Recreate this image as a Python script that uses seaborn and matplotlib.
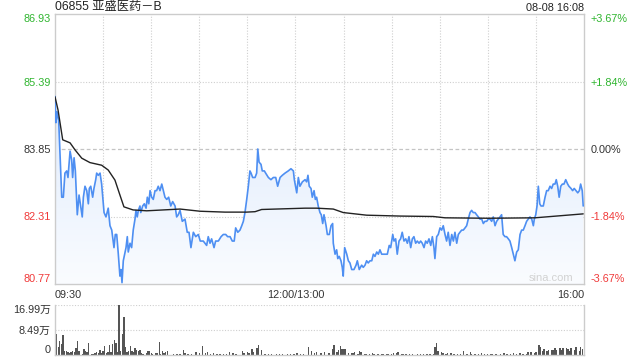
import numpy as np
import pandas as pd
import matplotlib
matplotlib.use("Agg")
import matplotlib.pyplot as plt
import seaborn as sns
from matplotlib.colors import LinearSegmentedColormap

# ---------------- data ----------------
title_text = "06855 亚盛医药－B"
stamp_text = "08-08 16:08"

price_minutes = [
    0.0, 0.6, 1.2, 2.3, 4.2, 5.2, 6.2, 7.3, 8.1, 9.4, 10.4, 11.0, 11.9, 12.7, 13.9, 15.0, 16.0, 17.0, 17.7, 18.7,
    19.8, 20.8, 21.4, 22.3, 23.5, 24.3, 25.4, 26.0, 27.0, 28.1, 29.1, 30.6, 31.8, 33.2, 34.3, 35.4, 36.8, 37.6, 38.5, 39.5,
    40.5, 41.2, 41.8, 42.6, 43.7, 44.3, 45.1, 45.7, 46.8, 47.8, 48.8, 49.9, 50.5, 51.3, 52.0, 53.0, 53.5, 54.7, 55.7, 56.8,
    57.6, 58.5, 59.3, 60.3, 61.3, 62.4, 63.4, 64.4, 65.5, 66.6, 67.6, 68.6, 69.7, 70.9, 72.2, 73.4, 74.9, 75.9, 76.9, 78.0,
    79.4, 81.1, 82.5, 83.6, 84.8, 86.3, 87.8, 89.4, 90.6, 92.5, 94.6, 95.6, 96.7, 97.7, 99.2, 100.2, 101.9, 103.6, 105.0, 106.5,
    107.7, 109.2, 110.6, 111.8, 112.7, 114.0, 115.4, 116.5, 117.5, 118.5, 119.6, 120.6, 121.6, 122.3, 123.3, 124.8, 125.8, 126.5, 127.3, 128.5,
    129.3, 130.6, 131.4, 133.1, 134.7, 136.2, 137.7, 138.9, 140.4, 141.8, 143.5, 145.5, 147.2, 148.7, 149.3, 150.8, 151.8, 152.8, 154.3, 156.0,
    157.0, 157.8, 158.6, 159.7, 160.5, 161.6, 162.4, 163.2, 164.2, 165.3, 166.1, 167.0, 167.8, 169.1, 169.9, 171.1, 172.2, 173.2, 173.6, 174.7,
    175.7, 176.4, 177.3, 178.4, 179.2, 179.8, 180.7, 182.0, 183.0, 184.0, 185.1, 186.5, 187.8, 188.6, 189.8, 191.3, 192.3, 193.4, 194.4, 195.4,
    196.5, 197.6, 198.6, 199.6, 200.7, 201.7, 202.7, 203.8, 204.8, 205.9, 207.3, 208.5, 209.4, 210.7, 211.5, 212.5, 213.5, 214.6, 215.6, 216.6,
    217.7, 218.8, 219.8, 220.8, 221.9, 222.9, 223.9, 225.0, 226.0, 227.1, 228.1, 229.1, 230.2, 231.2, 232.2, 233.3, 234.4, 235.4, 236.4, 237.0,
    238.1, 239.1, 240.2, 241.2, 242.2, 243.3, 244.3, 245.3, 246.4, 247.5, 248.5, 249.5, 250.6, 251.6, 252.6, 253.7, 254.7, 255.8, 256.8, 257.8,
    258.9, 259.9, 260.9, 262.0, 263.0, 264.1, 265.1, 266.2, 267.2, 268.2, 269.3, 270.3, 271.4, 272.4, 273.4, 274.5, 275.5, 276.5, 277.6, 278.6,
    279.6, 280.7, 281.7, 282.8, 283.8, 284.9, 285.9, 286.9, 288.0, 289.0, 290.1, 291.1, 292.1, 293.2, 294.2, 295.2, 296.3, 297.4, 298.4, 299.0,
    299.9, 300.7, 301.5, 302.4, 303.2, 304.6, 305.7, 306.7, 307.7, 308.8, 309.8, 310.8, 311.9, 312.7, 313.6, 314.5, 315.5, 316.5, 317.5, 318.6,
    319.8, 320.6, 321.9, 322.9, 323.9, 325.0, 326.1, 327.1, 327.9, 328.9, 329.5,
]
price_values = [
    85.05, 84.45, 84.70, 84.50, 82.75, 82.75, 83.30, 83.35, 83.20, 83.80, 83.60, 83.20, 83.65, 83.35, 82.35, 82.80, 82.55, 82.30, 82.75, 83.00,
    82.90, 82.60, 82.95, 83.00, 82.75, 82.95, 83.15, 83.30, 83.25, 83.30, 83.05, 82.40, 82.30, 82.50, 82.10, 82.00, 81.60, 81.90, 81.90, 81.45,
    80.95, 81.10, 80.80, 81.30, 81.50, 81.60, 81.85, 81.50, 81.70, 81.60, 82.00, 82.25, 82.45, 82.30, 82.45, 82.55, 82.40, 82.55, 82.60, 82.50,
    82.75, 82.60, 82.90, 82.75, 82.70, 82.90, 82.90, 83.00, 82.90, 83.05, 82.90, 82.75, 82.70, 82.75, 82.55, 82.65, 82.55, 82.30, 82.35, 82.45,
    82.20, 82.25, 81.95, 81.95, 81.60, 81.95, 81.85, 81.90, 81.75, 81.75, 81.65, 81.85, 81.70, 81.80, 81.60, 81.75, 81.75, 81.85, 81.90, 81.90,
    81.85, 81.85, 81.75, 81.75, 82.05, 81.95, 82.00, 82.10, 82.20, 82.40, 82.70, 83.00, 83.35, 83.30, 83.20, 83.20, 83.30, 83.85, 83.55, 83.50,
    83.35, 83.35, 83.30, 83.20, 83.15, 83.20, 83.20, 83.00, 83.20, 83.25, 83.30, 83.35, 83.40, 83.35, 83.15, 82.85, 83.20, 83.00, 83.10, 83.15,
    83.10, 83.25, 83.00, 82.95, 82.75, 82.90, 82.70, 82.75, 82.55, 82.40, 82.35, 82.15, 82.35, 82.10, 81.90, 81.90, 82.10, 82.15, 81.70, 81.45,
    81.55, 81.35, 81.40, 81.30, 81.15, 80.95, 81.60, 81.45, 81.30, 81.25, 81.10, 81.10, 81.20, 81.30, 81.10, 81.20, 81.15, 81.20, 81.30, 81.25,
    81.30, 81.30, 81.45, 81.40, 81.50, 81.45, 81.55, 81.45, 81.45, 81.45, 81.45, 81.65, 81.60, 81.90, 81.75, 81.80, 81.45, 81.75, 81.80, 81.95,
    81.75, 81.80, 81.70, 81.85, 81.60, 81.80, 81.85, 81.70, 81.75, 81.70, 81.75, 81.70, 81.60, 81.75, 81.70, 81.80, 81.65, 81.85, 81.60, 81.35,
    81.85, 81.90, 82.05, 82.00, 82.10, 81.90, 81.75, 81.95, 81.65, 81.90, 81.75, 81.95, 81.70, 81.90, 81.95, 82.00, 82.00, 82.05, 82.10, 82.25,
    82.40, 82.45, 82.40, 82.40, 82.35, 82.30, 82.25, 82.25, 82.15, 82.20, 82.20, 82.25, 82.25, 82.20, 82.30, 82.10, 82.20, 82.25, 82.30, 82.35,
    81.90, 81.85, 81.85, 81.80, 81.75, 81.60, 81.45, 81.30, 81.50, 81.55, 81.90, 82.00, 82.00, 82.10, 82.20, 82.25, 82.30, 82.25, 82.10, 82.25,
    82.35, 82.55, 83.00, 82.60, 82.55, 82.55, 82.75, 82.90, 82.90, 83.00, 82.95, 83.05, 83.05, 83.15, 83.00, 82.75, 83.00, 83.05, 83.05, 83.15,
    83.05, 83.00, 82.95, 82.90, 82.95, 82.90, 82.85, 82.90, 83.05, 82.90, 82.55,
]

avg_minutes = [0.0, 1.9, 4.8, 9.4, 12.5, 16.7, 21.8, 29.1, 33.2, 37.4, 40.5, 43.0, 48.7, 57.2, 78.0, 90.5,
               106.0, 119.6, 124.8, 128.9, 156.0, 163.2, 173.6, 179.8, 194.4, 215.2, 236.0, 243.3, 270.1,
               299.4, 329.5]
avg_values = [85.04, 84.74, 84.06, 83.99, 83.83, 83.64, 83.54, 83.48, 83.37, 83.14, 82.80, 82.53, 82.46,
              82.44, 82.48, 82.43, 82.41, 82.41, 82.42, 82.47, 82.50, 82.50, 82.48, 82.40, 82.34, 82.32,
              82.31, 82.28, 82.27, 82.28, 82.37]

vol_minutes = [
    0, 1, 2, 3, 4, 5, 6, 7, 8, 9, 10, 11, 12, 13, 14, 15, 17, 18, 19, 20, 21, 23, 24, 25, 26, 27, 28, 29, 30, 31,
    32, 33, 34, 35, 36, 37, 38, 39, 40, 41, 42, 43, 44, 45, 46, 47, 48, 49, 50, 51, 52, 53, 54, 55, 57, 58, 59, 60,
    61, 63, 64, 65, 66, 67, 68, 69, 70, 72, 74, 76, 78, 80, 81, 83, 85, 88, 90, 92, 94, 95, 97, 99, 101, 103, 105,
    107, 109, 111, 113, 117, 118, 120, 121, 123, 124, 126, 127, 129, 131, 133, 135, 138, 140, 142, 145, 147, 149,
    151, 153, 155, 158, 160, 162, 163, 166, 168, 171, 173, 174, 176, 177, 178, 179, 180, 181, 183, 185, 186, 187,
    189, 190, 191, 193, 194, 196, 198, 199, 201, 202, 204, 205, 207, 208, 210, 211, 213, 214, 216, 217, 219, 221,
    223, 226, 228, 230, 232, 234, 236, 237, 238, 239, 241, 242, 244, 245, 247, 249, 251, 253, 255, 257, 259, 260,
    262, 264, 266, 268, 270, 272, 273, 275, 278, 280, 282, 284, 286, 288, 290, 292, 294, 295, 297, 299, 300, 302,
    303, 304, 305, 307, 308, 310, 311, 312, 313, 315, 316, 317, 319, 320, 321, 322, 324, 325, 327, 328, 329,
]
vol_values = [  # 万股
    8.38, 7.00, 2.87, 4.71, 3.79, 6.66, 1.49, 1.26, 0.92, 0.69, 0.92, 1.26, 0.92, 2.30, 4.71, 1.26, 0.34, 2.07, 1.49, 0.92,
    4.02, 0.34, 0.34, 0.57, 0.92, 0.69, 1.84, 0.57, 1.49, 2.98, 0.57, 0.92, 3.33, 0.92, 3.79, 4.94, 4.02, 1.15, 16.99, 1.49,
    7.00, 12.97, 2.87, 0.92, 1.49, 2.98, 1.49, 0.92, 2.41, 1.72, 1.49, 1.72, 0.57, 0.34, 0.80, 1.49, 1.26, 0.57, 0.34, 0.69,
    0.57, 4.25, 0.34, 1.26, 0.57, 0.92, 1.49, 0.11, 0.34, 0.23, 0.34, 1.84, 0.57, 0.34, 0.46, 0.92, 0.57, 3.21, 0.57, 0.92,
    0.34, 0.57, 0.34, 0.46, 0.34, 0.46, 0.92, 0.69, 0.34, 1.26, 0.57, 0.92, 0.57, 2.07, 0.92, 2.41, 3.56, 1.84, 0.34, 0.23,
    0.23, 0.34, 0.23, 0.34, 0.23, 0.34, 0.23, 0.69, 0.34, 0.34, 2.87, 1.49, 0.57, 0.92, 0.57, 0.92, 0.69, 2.07, 3.44, 1.15,
    1.84, 3.10, 2.07, 2.07, 2.07, 0.57, 0.57, 0.69, 0.92, 0.46, 1.49, 0.92, 0.34, 0.34, 0.34, 0.69, 0.34, 0.34, 0.23, 0.34,
    0.23, 0.34, 0.46, 0.46, 0.69, 0.69, 1.15, 0.34, 0.34, 0.23, 0.34, 0.23, 0.34, 0.23, 0.34, 0.23, 0.34, 0.46, 2.87, 4.13,
    1.49, 0.92, 0.57, 0.46, 0.69, 0.69, 0.34, 0.34, 0.34, 1.49, 0.46, 1.15, 0.46, 0.34, 0.34, 0.69, 0.34, 0.23, 0.34, 0.34,
    0.23, 0.46, 0.69, 0.46, 0.46, 0.69, 0.46, 0.69, 0.34, 0.46, 1.15, 0.92, 0.69, 1.15, 3.56, 2.64, 1.49, 2.07, 1.26, 1.72,
    1.72, 1.72, 2.30, 1.84, 2.30, 1.84, 2.41, 2.30, 2.07, 1.49, 2.30, 1.72, 2.64, 1.26, 2.64, 2.07,
]

price_ticks = [80.77, 82.31, 83.85, 85.39, 86.93]
pct_labels = ["-3.67%", "-1.84%", "0.00%", "+1.84%", "+3.67%"]
vol_ticks = [0, 8.49, 16.99]
vol_labels = ["0", "8.49万", "16.99万"]
x_ticks = [0, 150, 330]
x_labels = ["09:30", "12:00/13:00", "16:00"]
prev_close = 83.85

# ---------------- style ----------------
sns.set_style("white")
plt.rcParams["font.family"] = ["Liberation Sans", "Noto Sans CJK SC", "DejaVu Sans"]

GREEN = "#2fb52f"
RED = "#f03a3a"
DARK = "#333333"
GRID = "#cfcfcf"
SPINE = "#cccccc"
LINE = "#4e8ff2"

fig = plt.figure(figsize=(6.4, 3.6), dpi=100)
ax = fig.add_axes([55 / 640, 1 - 284 / 360, 529 / 640, 270 / 360])
axv = fig.add_axes([55 / 640, 1 - 355 / 360, 529 / 640, 50 / 360])

ymin, ymax = price_ticks[0], price_ticks[-1]

# gradient fill under the price line
poly = ax.fill_between(price_minutes, price_values, ymin, color="none", linewidth=0)
cmap = LinearSegmentedColormap.from_list("g", ["#fafcff", "#d3e3fb"])
grad = np.linspace(1, 0, 256).reshape(-1, 1)
im = ax.imshow(grad, extent=[0, 330, ymin, ymax], aspect="auto", cmap=cmap, zorder=1)
im.set_clip_path(poly.get_paths()[0], transform=ax.transData)

price_df = pd.DataFrame({"minute": price_minutes, "price": price_values})
avg_df = pd.DataFrame({"minute": avg_minutes, "price": avg_values})
sns.lineplot(data=price_df, x="minute", y="price", ax=ax, color=LINE, linewidth=1.2,
             estimator=None, sort=False, zorder=3)
sns.lineplot(data=avg_df, x="minute", y="price", ax=ax, color="#222222", linewidth=1.0,
             estimator=None, sort=False, zorder=4)

ax.set_xlim(0, 330)
ax.set_ylim(ymin, ymax)

# grid
for m in range(30, 330, 30):
    ax.axvline(m, color=GRID, lw=0.8, ls=(0, (1, 1.5)), zorder=0.5)
for v in (price_ticks[1], price_ticks[3]):
    ax.axhline(v, color=GRID, lw=0.8, ls=(0, (1, 1.5)), zorder=0.5)
ax.axhline(prev_close, color="#c4c4c4", lw=0.9, ls=(0, (3, 2)), zorder=0.5)

for s in ax.spines.values():
    s.set_color(SPINE)
    s.set_linewidth(1)

ax.set_xlabel("")
ax.set_ylabel("")
ax.set_xticks(x_ticks)
ax.set_xticklabels(x_labels)
ax.set_yticks(price_ticks)
ax.set_yticklabels([f"{v:.2f}" for v in price_ticks])
ax.tick_params(axis="both", length=0, labelsize=7.8, labelcolor=DARK)
ax.tick_params(axis="x", pad=4)
ax.tick_params(axis="y", pad=3)
xl = ax.get_xticklabels()
xl[0].set_ha("left")
xl[-1].set_ha("right")
left_colors = [RED, RED, DARK, GREEN, GREEN]
for lab, c in zip(ax.get_yticklabels(), left_colors):
    lab.set_color(c)
yl = ax.get_yticklabels()
yl[0].set_va("bottom")
yl[-1].set_va("top")

ax2 = ax.twinx()
ax2.set_ylim(ymin, ymax)
ax2.set_yticks(price_ticks)
ax2.set_yticklabels(pct_labels)
ax2.tick_params(axis="y", length=0, labelsize=7.8, pad=5)
for s in ax2.spines.values():
    s.set_visible(False)
for lab, c in zip(ax2.get_yticklabels(), left_colors):
    lab.set_color(c)
rl = ax2.get_yticklabels()
rl[0].set_va("bottom")
rl[-1].set_va("top")

ax.text(0.979, 0.022, "sina.com", transform=ax.transAxes, ha="right", va="center",
        fontsize=8, color="#d2d2d2", zorder=5)

# volume
vol_df = pd.DataFrame({"minute": vol_minutes, "vol": vol_values})
sns.histplot(data=vol_df, x="minute", weights="vol", discrete=True, shrink=0.85,
             color="#555555", edgecolor=None, linewidth=0, alpha=1.0, ax=axv)
axv.set_xlim(0, 330)
axv.set_ylim(0, vol_ticks[-1])
axv.set_xlabel("")
axv.set_ylabel("")
axv.set_xticks([])
axv.set_yticks(vol_ticks)
axv.set_yticklabels(vol_labels)
axv.tick_params(axis="y", length=0, labelsize=7.8, pad=3, labelcolor=DARK)
vl = axv.get_yticklabels()
vl[0].set_va("bottom")
vl[-1].set_va("top")
for v in vol_ticks[1:]:
    axv.axhline(v, color=GRID, lw=0.8, ls=(0, (1, 1.5)), zorder=0.5)
axv.spines["top"].set_visible(False)
for k in ("left", "right", "bottom"):
    axv.spines[k].set_color(SPINE)
    axv.spines[k].set_linewidth(1)

fig.text(55 / 640, 1 - 7 / 360, title_text, ha="left", va="center", fontsize=8.8, color="#222222")
fig.text(584 / 640, 1 - 8 / 360, stamp_text, ha="right", va="center", fontsize=7.8, color="#222222")

fig.savefig("out.png", dpi=100)
